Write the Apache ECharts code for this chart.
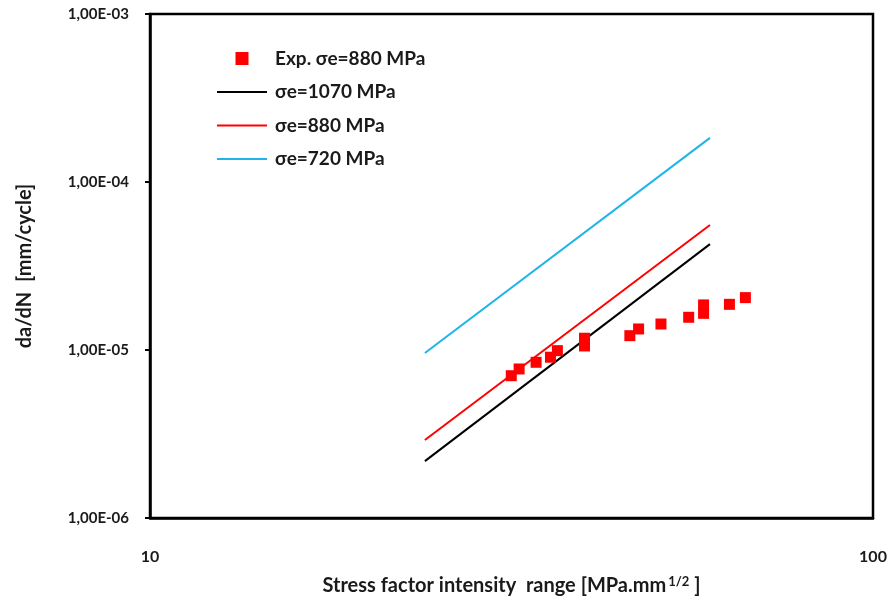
<!DOCTYPE html>
<html>
<head>
<meta charset="utf-8">
<script src="https://cdn.jsdelivr.net/npm/echarts@6/dist/echarts.min.js"></script>
<style>
html,body{margin:0;padding:0;background:#fff;}
#chart{width:891px;height:603px;}
</style>
</head>
<body>
<div id="chart"></div>
<script>
// Experimental data (sigma_e = 880 MPa)
const expX = [31.6, 32.4, 34.2, 35.8, 36.6, 39.9, 39.9, 46.1, 47.4, 50.9, 55.6, 58.3, 58.3, 63.3, 66.6];
const expY = [7.03e-6, 7.71e-6, 8.45e-6, 9.06e-6, 9.91e-6, 1.175e-5, 1.057e-5, 1.217e-5, 1.334e-5, 1.428e-5, 1.566e-5, 1.855e-5, 1.653e-5, 1.87e-5, 2.05e-5];
// Model lines
const lineX = [24.0, 59.5];
const line1070 = [2.18e-6, 4.27e-5];
const line880 = [2.91e-6, 5.55e-5];
const line720 = [9.6e-6, 1.83e-4];
// Tick labels
const xTickValues = [10, 100];
const xTickLabels = ['10', '100'];
const yTickValues = [1e-6, 1e-5, 1e-4, 1e-3];
const yTickLabels = ['1,00E-06', '1,00E-05', '1,00E-04', '1,00E-03'];
const seriesNames = ['Exp. σe=880 MPa', 'σe=1070 MPa', 'σe=880 MPa', 'σe=720 MPa'];

function labelFor(v, vals, labels) {
  for (let i = 0; i < vals.length; i++) {
    if (Math.abs(Math.log10(v) - Math.log10(vals[i])) < 1e-6) return labels[i];
  }
  return '';
}
function pairs(xs, ys) { return xs.map((x, i) => [x, ys[i]]); }

const font = 'Lato, "Noto Sans", sans-serif';
const txt = '#1a1a1a';
const squareIcon = 'path://M0,0L10,0L10,10L0,10Z';
const lineIcon = 'path://M0,0L50,0L50,2L0,2Z';
const chart = echarts.init(document.getElementById('chart'));
chart.setOption({
  animation: false,
  backgroundColor: '#fff',
  grid: { left: 150, top: 14, right: 18, bottom: 85, show: true, borderColor: '#000', borderWidth: 2.5, backgroundColor: 'transparent' },
  legend: {
    orient: 'vertical', left: 212, top: 44,
    itemWidth: 50, itemHeight: 13, itemGap: 14.5,
    symbolKeepAspect: true,
    textStyle: { fontFamily: font, fontSize: 19, fontWeight: 'bold', color: txt, padding: [0, 0, 0, 3] },
    data: [
      { name: seriesNames[0], icon: squareIcon },
      { name: seriesNames[1], icon: lineIcon },
      { name: seriesNames[2], icon: lineIcon },
      { name: seriesNames[3], icon: lineIcon }
    ]
  },
  xAxis: {
    type: 'log', logBase: 10, min: 10, max: 100,
    name: '{a|Stress factor intensity  range [MPa.mm}{s|1/2}{a| ]}',
    nameLocation: 'middle', nameGap: 57,
    nameTextStyle: {
      rich: {
        a: { fontFamily: font, fontSize: 20, fontWeight: 'bold', color: txt },
        s: { fontFamily: font, fontSize: 13, fontWeight: 'bold', color: txt, verticalAlign: 'top', padding: [0, 0, 9, 2] }
      }
    },
    axisLine: { show: true, lineStyle: { color: '#000', width: 2.5 } },
    axisTick: { show: false },
    splitLine: { show: false },
    axisLabel: { margin: 31, fontFamily: font, fontSize: 16, fontWeight: 'bold', color: txt,
      formatter: v => labelFor(v, xTickValues, xTickLabels) }
  },
  yAxis: {
    type: 'log', logBase: 10, min: 1e-6, max: 1e-3,
    name: 'da/dN  [mm/cycle]',
    nameLocation: 'middle', nameGap: 115,
    nameTextStyle: { fontFamily: font, fontSize: 20, fontWeight: 'bold', color: txt },
    axisLine: { show: true, lineStyle: { color: '#000', width: 2.5 } },
    axisTick: { show: true, inside: false, length: 5, lineStyle: { color: '#000', width: 2 } },
    splitLine: { show: false },
    axisLabel: { margin: 21, fontFamily: font, fontSize: 15, fontWeight: 'bold', color: txt,
      formatter: v => labelFor(v, yTickValues, yTickLabels) }
  },
  series: [
    { name: seriesNames[0], type: 'scatter', symbol: 'rect', symbolSize: 11,
      itemStyle: { color: '#ff0000', opacity: 1 }, data: pairs(expX, expY), z: 5 },
    { name: seriesNames[1], type: 'line', symbol: 'none', lineStyle: { color: '#000', width: 2 }, itemStyle: { color: '#000' }, data: pairs(lineX, line1070) },
    { name: seriesNames[2], type: 'line', symbol: 'none', lineStyle: { color: '#ff0000', width: 2 }, itemStyle: { color: '#ff0000' }, data: pairs(lineX, line880) },
    { name: seriesNames[3], type: 'line', symbol: 'none', lineStyle: { color: '#1eb4ea', width: 2 }, itemStyle: { color: '#1eb4ea' }, data: pairs(lineX, line720) }
  ]
});
</script>
</body>
</html>
